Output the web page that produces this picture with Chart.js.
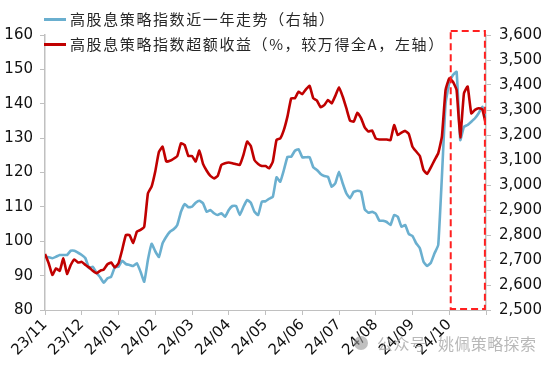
<!DOCTYPE html>
<html>
<head>
<meta charset="utf-8">
<script src="https://cdn.jsdelivr.net/npm/chart.js@4.4.1/dist/chart.umd.min.js"></script>
<style>
  html, body { margin: 0; padding: 0; background: #fff; }
  #wrap { position: relative; width: 550px; height: 367px; overflow: hidden; }
  canvas { position: absolute; left: 0; top: 0; }
  .lg { position: absolute; font-family: "Noto Sans CJK SC", sans-serif; font-size: 15px;
        letter-spacing: 1.6px; color: #262626; line-height: 20px; height: 20px; white-space: nowrap; }
  .sw { position: absolute; height: 3px; width: 22px; }
  .wm { position: absolute; top: 332px; font-family: "Noto Sans CJK SC", sans-serif;
        font-size: 16px; letter-spacing: 0.4px; color: rgba(160,160,160,0.75); white-space: nowrap; line-height: 22px; }
  #wmi { position: absolute; left: 354px; top: 336px; width: 14px; height: 14px; border-radius: 50%;
         background: rgba(150,150,150,0.6); }
</style>
</head>
<body>
<div id="wrap">
  <canvas id="c" width="550" height="367"></canvas>
  <div class="sw" style="left:44px; top:18px; background:#6AAFCF;"></div>
  <div class="lg" id="lg1" style="left:70px; top:9px;"></div>
  <div class="sw" style="left:44px; top:43px; background:#C00000;"></div>
  <div class="lg" id="lg2" style="left:70px; top:34px;"></div>
  <div id="wmi"></div>
  <div class="wm" style="left:377px;">公众号</div>
  <div class="wm" style="left:438px;">姚佩策略探索</div>
</div>
<script>
// ---- data (10 samples per month, Nov 2023 -> Nov 2024) ----
const xTickLabels = ['23/11','23/12','24/01','24/02','24/03','24/04','24/05','24/06','24/07','24/08','24/09','24/10'];
const pointsPerMonth = 10;

const seriesNames = ['高股息策略指数近一年走势（右轴）', '高股息策略指数超额收益（%，较万得全A，左轴）'];

// 高股息策略指数超额收益 (left axis, %)
const excessReturn = [
  96.3, 93.6, 90.2, 92.1, 91.4, 95.0, 90.5, 93.1, 94.7, 93.8,
  94.0, 93.1, 92.4, 91.4, 90.7, 91.4, 91.8, 93.3, 93.8, 92.4,
  93.6, 97.5, 101.8, 101.8, 99.5, 102.8, 103.3, 104.2, 113.9, 115.9,
  120.3, 126.0, 127.5, 123.2, 123.4, 124.0, 124.8, 128.5, 128.0, 124.8,
  124.8, 123.2, 126.4, 122.5, 120.5, 119.0, 118.3, 119.0, 122.2, 122.7,
  122.9, 122.7, 122.4, 122.2, 125.1, 129.0, 127.7, 123.6, 122.5, 121.9,
  121.9, 121.2, 123.2, 129.5, 129.9, 132.4, 136.4, 141.6, 141.6, 143.5,
  142.8, 144.2, 145.2, 141.6, 140.9, 139.0, 139.6, 141.1, 140.1, 142.3,
  144.8, 142.1, 138.7, 135.1, 134.8, 137.4, 135.8, 133.1, 131.9, 132.2,
  129.9, 129.6, 129.6, 129.6, 129.4, 133.8, 130.9, 131.6, 132.1, 131.2,
  127.5, 126.1, 124.8, 120.7, 119.6, 121.5, 123.6, 125.6, 130.4, 144.0,
  147.4, 146.4, 144.0, 130.2, 143.0, 145.0, 137.2, 138.2, 138.7, 138.4,
  133.8
];

// 高股息策略指数 level (right axis)
const indexLevel = [
  2713, 2711, 2707, 2713, 2720, 2720, 2720, 2737, 2737, 2729,
  2720, 2707, 2667, 2673, 2649, 2631, 2609, 2627, 2633, 2671,
  2673, 2697, 2684, 2680, 2676, 2687, 2653, 2613, 2700, 2765,
  2735, 2712, 2767, 2793, 2813, 2823, 2840, 2893, 2924, 2911,
  2913, 2929, 2937, 2927, 2893, 2900, 2887, 2880, 2887, 2873,
  2900, 2916, 2916, 2880, 2913, 2940, 2929, 2893, 2880, 2933,
  2935, 2945, 2953, 3031, 3013, 3060, 3113, 3113, 3137, 3143,
  3111, 3111, 3111, 3071, 3060, 3044, 3036, 3033, 2993, 3007,
  3053, 3007, 2967, 2947, 2973, 2977, 2973, 2903, 2889, 2893,
  2885, 2857, 2857, 2852, 2840, 2880, 2873, 2833, 2840, 2804,
  2796, 2767, 2747, 2693, 2676, 2689, 2727, 2760, 3033, 3327,
  3407, 3440, 3453, 3180, 3233, 3240, 3253, 3267, 3287, 3313,
  3273
];

// highlighted window (x units: samples), roughly Oct 2024 onward
const highlightFrom = 110.4;
const highlightTo = 119.7;

document.getElementById('lg1').textContent = seriesNames[0];
document.getElementById('lg2').textContent = seriesNames[1];

const tickFont = { family: 'DejaVu Sans', size: 15 };
const axisGray = '#c0c0c0';

const boxPlugin = {
  id: 'highlightBox',
  afterDatasetsDraw(chart) {
    const { ctx, chartArea, scales } = chart;
    const x1 = scales.x.getPixelForValue(highlightFrom);
    const x2 = scales.x.getPixelForValue(highlightTo);
    const top = chartArea.top - 4;
    const bottom = chartArea.bottom - 1;
    ctx.save();
    ctx.setLineDash([7, 4]);
    ctx.strokeStyle = '#FF2020';
    ctx.lineWidth = 2;
    ctx.strokeRect(x1, top, x2 - x1, bottom - top);
    ctx.restore();
  }
};

new Chart(document.getElementById('c'), {
  type: 'line',
  data: {
    datasets: [
      {
        label: seriesNames[1],
        data: excessReturn.map((v, i) => ({ x: i, y: v })),
        yAxisID: 'yL',
        borderColor: '#C00000',
        borderWidth: 2.6,
        pointRadius: 0,
        tension: 0.12,
        borderJoinStyle: 'round'
      },
      {
        label: seriesNames[0],
        data: indexLevel.map((v, i) => ({ x: i, y: v })),
        yAxisID: 'yR',
        borderColor: '#6AAFCF',
        borderWidth: 2.6,
        pointRadius: 0,
        tension: 0.12,
        borderJoinStyle: 'round'
      }
    ]
  },
  options: {
    responsive: false,
    animation: false,
    devicePixelRatio: 1,
    layout: { padding: { top: 35, left: 0, right: 0, bottom: 0 } },
    plugins: { legend: { display: false }, tooltip: { enabled: false } },
    scales: {
      x: {
        type: 'linear',
        position: 'bottom',
        min: 0,
        max: (xTickLabels.length) * pointsPerMonth,
        grid: { drawOnChartArea: false, color: axisGray, tickLength: 5 },
        border: { color: axisGray, width: 1 },
        ticks: {
          stepSize: pointsPerMonth,
          autoSkip: false,
          minRotation: 45,
          maxRotation: 45,
          padding: 1,
          color: '#111',
          font: tickFont,
          callback: (v) => xTickLabels[Math.round(v / pointsPerMonth)] || ''
        },
        afterFit: (s) => { s.height = 57; }
      },
      yL: {
        position: 'left',
        min: 80,
        max: 160,
        grid: { drawOnChartArea: false, color: axisGray, tickLength: 5 },
        border: { color: axisGray, width: 1.5 },
        ticks: { stepSize: 10, color: '#111', font: tickFont, padding: 7 },
        afterFit: (s) => { s.width = 45; }
      },
      yR: {
        position: 'right',
        min: 2500,
        max: 3600,
        grid: { drawOnChartArea: false, color: axisGray, tickLength: 5 },
        border: { color: axisGray, width: 1.5 },
        ticks: { stepSize: 100, color: '#111', font: tickFont, padding: 8,
                 callback: (v) => Number(v).toLocaleString('en-US') },
        afterFit: (s) => { s.width = 64; }
      }
    }
  },
  plugins: [boxPlugin]
});
</script>
</body>
</html>
